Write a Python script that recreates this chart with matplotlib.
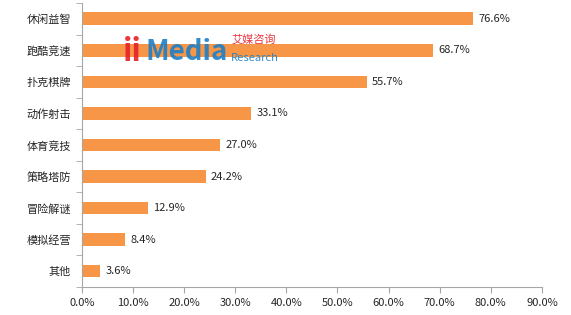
import matplotlib
matplotlib.use("Agg")
import matplotlib.pyplot as plt
import numpy as np

plt.rcParams['font.family'] = ['Noto Sans CJK SC', 'DejaVu Sans']

categories = ["休闲益智", "跑酷竞速", "扑克棋牌", "动作射击", "体育竞技", "策略塔防", "冒险解谜", "模拟经营", "其他"]
values = [76.6, 68.7, 55.7, 33.1, 27.0, 24.2, 12.9, 8.4, 3.6]
xticks = [0, 10, 20, 30, 40, 50, 60, 70, 80, 90]

fig = plt.figure(figsize=(5.71, 3.15), dpi=100)
ax = fig.add_axes([0.1436, 0.089, 0.949 - 0.1436, 0.9905 - 0.089])

y = np.arange(len(categories))
ax.barh(y, values, height=0.4, color="#F79646", edgecolor="none", zorder=2)
for yi, v in zip(y, values):
    ax.text(v + 1.0, yi, f"{v:.1f}%", va="center", ha="left", fontsize=8, color="#262626")

ax.set_ylim(len(categories) - 0.5, -0.5)
ax.set_xlim(0, 90)
ax.set_yticks(y)
ax.set_yticklabels(categories, fontsize=8, color="#262626")
ax.set_yticks(np.arange(-0.5, len(categories), 1), minor=True)
ax.tick_params(axis="y", which="major", length=0, pad=8)
ax.tick_params(axis="y", which="minor", length=4, color="#A6A6A6", direction="out")
ax.set_xticks(xticks)
ax.set_xticklabels([f"{t:.1f}%" for t in xticks], fontsize=8, color="#262626")
ax.tick_params(axis="x", length=4, color="#A6A6A6", direction="out", pad=4)

for s in ["top", "right"]:
    ax.spines[s].set_visible(False)
for s in ["left", "bottom"]:
    ax.spines[s].set_color("#A6A6A6")
    ax.spines[s].set_linewidth(0.8)

# watermark
fig.text(0.215, 0.835, "ii", fontsize=22, color="#E8202A", fontweight="bold", alpha=0.9, va="center", fontstyle="italic")
fig.text(0.255, 0.835, "Media", fontsize=20, color="#1E7FC8", fontweight="bold", alpha=0.9, va="center")
fig.text(0.405, 0.875, "艾媒咨询", fontsize=8, color="#E8202A", alpha=0.9, va="center")
fig.text(0.405, 0.815, "Research", fontsize=8, color="#1E7FC8", alpha=0.9, va="center", fontstyle="italic")

fig.savefig("out.png", dpi=100, facecolor="white")
